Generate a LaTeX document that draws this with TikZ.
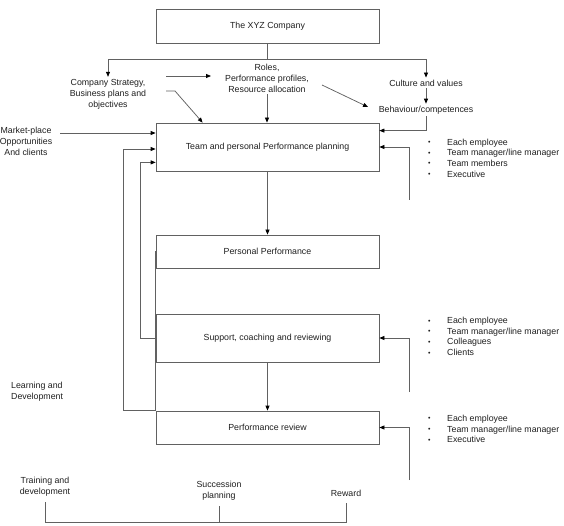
\documentclass[tikz,border=0pt]{standalone}
\usepackage{fontspec}
\setmainfont{Liberation Sans}
\usetikzlibrary{arrows.meta,calc}
\newcommand\blt{\makebox[19pt][l]{\raisebox{0.5pt}{\fontsize{7}{6}\selectfont\textbullet}}}
\begin{document}
\begin{tikzpicture}[x=1pt,y=-1pt,
  ln/.style={draw=black!62,line width=0.75pt},
  arr/.style={ln,-{Triangle[length=5pt,width=4pt,color=black]}},
  box/.style={ln,rectangle,minimum width=223pt,inner sep=0pt,text=black!88,font=\fontsize{8.8}{11}\selectfont},
  txt/.style={inner sep=2pt,align=center,text=black!88,font=\fontsize{8.8}{11}\selectfont},
  lst/.style={inner sep=2pt,align=left,anchor=west,text=black!88,font=\fontsize{8.8}{10.7}\selectfont}]
\useasboundingbox (0,0) rectangle (564,526);
% boxes
\node[box,minimum height=34pt] (top) at (267.5,26) {The XYZ Company};
\node[box,minimum height=48pt] (plan) at (267.5,147) {Team and personal Performance planning};
\node[box,minimum height=33pt] (pp) at (267.5,251.5) {Personal Performance};
\node[box,minimum height=48pt] (sup) at (267.5,338) {Support, coaching and reviewing};
\node[box,minimum height=33pt] (rev) at (267.5,427.5) {Performance review};
% texts
\node[txt] (strat) at (108,94) {Company Strategy,\\Business plans and\\objectives};
\node[txt] (roles) at (267,78) {Roles,\\Performance profiles,\\Resource allocation};
\node[txt] (cult) at (426,83) {Culture and values};
\node[txt] (beh) at (426,110) {Behaviour/competences};
\node[txt] (market) at (26,141.5) {Market-place\\Opportunities\\And clients};
\node[txt,align=left,anchor=west] (learn) at (9,391.5) {Learning and\\Development};
\node[txt] (train) at (45,486.5) {Training and\\development};
\node[txt] (succ) at (219,490.5) {Succession\\planning};
\node[txt] (reward) at (346,493) {Reward};
\node[lst] (l1) at (426,158) {\blt Each employee\\ \blt Team manager/line manager\\ \blt Team members\\ \blt Executive};
\node[lst] (l2) at (426,336.5) {\blt Each employee\\ \blt Team manager/line manager\\ \blt Colleagues\\ \blt Clients};
\node[lst] (l3) at (426,429) {\blt Each employee\\ \blt Team manager/line manager\\ \blt Executive};
% coordinates
\coordinate (hj) at (267.5,59);
\coordinate (a1s) at (166,76);
\coordinate (a1e) at (211,76);
\coordinate (a2s) at (166,91);
\coordinate (a2m) at (175,91);
\coordinate (a3s) at (322,85);
\coordinate (a3e) at (368,107);
\coordinate (m1) at (60,133);
\coordinate (r1) at (409,200);
\coordinate (r2) at (409,392);
\coordinate (r3) at (409,480);
\coordinate (bl) at (0,522);
% top connectors
\draw[ln] (top.south) -- (hj);
\draw[arr] (hj) -| (strat.north);
\draw[arr] (hj) -| (cult.north);
\draw[arr] (a1s) -- (a1e);
\draw[arr] (a2s) -- (a2m) -- ($(plan.north west)+(47,0)$);
\draw[arr] (roles.south) -- (roles.south |- plan.north);
\draw[arr] (a3s) -- (a3e);
\draw[arr] (cult.south) -- (beh.north);
\draw[arr] (beh.south) |- ($(plan.north east)+(0,8)$);
\draw[arr] (m1) -- (m1 -| plan.west);
% right feedback
\draw[arr] (r1) |- (plan.east);
\draw[arr] (r2) |- (sup.east);
\draw[arr] (r3) |- (rev.east);
% left feedback
\draw[arr] (rev.north west) -- ++(-32,0) |- ($(plan.west)+(0,2)$);
\draw[arr] (sup.west) -- ++(-15,0) |- ($(plan.south west)+(0,-9)$);
\draw[ln] (pp.west) -- (rev.north west);
% main flow
\draw[arr] (plan.south) -- (pp.north);
\draw[arr] (sup.south) -- (rev.north);
% bottom
\draw[ln] ($(rev.south)+(31.5,0)$) -- ($(rev.south)+(31.5,0)$ |- bl);
\draw[ln] ($(train.south)+(0,4)$) -- (train.south |- bl) -- (reward.south |- bl) -- ($(reward.south)+(0,5)$);
\draw[ln] ($(succ.south)+(0,4)$) -- (succ.south |- bl);
\end{tikzpicture}
\end{document}
